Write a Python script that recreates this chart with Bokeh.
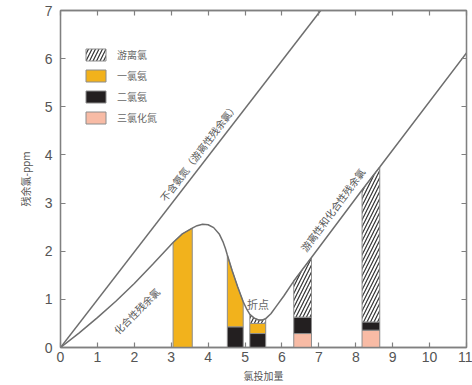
import numpy as np
from bokeh.plotting import figure
from bokeh.models import Range1d, LinearAxis, Label, Legend, LegendItem, ColumnDataSource, FixedTicker
from bokeh.core.properties import value
from bokeh.embed import file_html
from bokeh.resources import INLINE

# ---------------- data ----------------
x_ticks = list(range(0, 12))
y_ticks = list(range(0, 8))

# line without ammonia (free residual chlorine)
free_line_x = [0.0, 7.05]
free_line_y = [0.0, 7.0]

# breakpoint curve
curve_x = [0.0, 0.5, 1.0, 1.5, 2.0, 2.5, 3.05, 3.3, 3.57, 3.7, 3.85, 4.0, 4.15, 4.3, 4.4, 4.47, 4.52,
           4.65, 4.8, 4.95, 5.05, 5.13, 5.25, 5.37, 5.47, 5.56, 5.7, 5.85, 6.05, 6.32, 6.80, 8.17, 8.65, 11.0]
curve_y = [0.0, 0.30, 0.62, 0.96, 1.33, 1.73, 2.18, 2.36, 2.48, 2.53, 2.56, 2.55, 2.49, 2.36, 2.20, 2.05, 1.92,
           1.60, 1.26, 0.95, 0.79, 0.69, 0.61, 0.57, 0.57, 0.60, 0.70, 0.86, 1.07, 1.38, 1.87, 3.27, 3.75, 6.12]

# sample bars
bar_left = [3.05, 4.52, 5.13, 6.32, 8.17]
bar_right = [3.57, 4.95, 5.56, 6.80, 8.65]
ncl3 = [0.0, 0.0, 0.0, 0.29, 0.36]       # 三氯化氮
nhcl2 = [0.0, 0.43, 0.29, 0.34, 0.17]    # 二氯氨
nh2cl = [None, None, 0.21, 0.0, 0.0]     # 一氯氨 (None = up to the curve)
# the remainder up to the curve is free chlorine (游离氯)

legend_labels = ["游离氯", "一氯氨", "二氯氨", "三氯化氮"]

curve_texts = ["不含氨氮（游离性残余氯）", "化合性残余氯", "游离性和化合性残余氯"]
curve_text_x = [3.74, 2.06, 7.37]
curve_text_y = [4.06, 0.76, 2.86]
curve_text_angle = [52.8, 45.0, 53.6]

# ---------------- style ----------------
CJK = "Noto Sans CJK SC"
GRAY = "#808080"
colors = {"hatch": "#ffffff", "orange": "#f2b21c", "black": "#231f20", "pink": "#f8bba5"}

p = figure(width=472, height=385,
           x_range=Range1d(0, 11), y_range=Range1d(0, 7),
           output_backend="svg", toolbar_location=None,
           min_border_left=60, min_border_right=6, min_border_top=10, min_border_bottom=33)
p.grid.visible = False
p.outline_line_color = GRAY
p.outline_line_width = 1.3
p.background_fill_color = "white"


def style_axis(ax, ticks, labels=True):
    ax.axis_line_color = GRAY
    ax.axis_line_width = 1.3
    ax.major_tick_line_color = GRAY
    ax.major_tick_line_width = 1.2
    ax.major_tick_in = 5
    ax.major_tick_out = 0
    ax.minor_tick_line_color = None
    if labels:
        ax.major_label_text_font = "Liberation Sans"
        ax.major_label_text_font_size = "14px"
        ax.major_label_text_color = "#555555"
        ax.major_label_standoff = 4
    else:
        ax.major_label_overrides = {t: "" for t in ticks}
        ax.major_label_text_font_size = "1px"
        ax.major_label_standoff = 0


p.xaxis.ticker = FixedTicker(ticks=x_ticks)
p.yaxis.ticker = FixedTicker(ticks=y_ticks)
style_axis(p.xaxis[0], x_ticks)
style_axis(p.yaxis[0], y_ticks)
p.yaxis.major_label_standoff = 8
p.xaxis.axis_label = "氯投加量"
p.xaxis.axis_label_text_font = CJK
p.xaxis.axis_label_text_font_size = "10px"
p.xaxis.axis_label_text_font_style = "normal"
p.xaxis.axis_label_text_color = "#555555"
p.xaxis.axis_label_standoff = 3
p.yaxis.axis_label = "残余氯-ppm"
p.yaxis.axis_label_text_font = CJK
p.yaxis.axis_label_text_font_size = "10px"
p.yaxis.axis_label_text_font_style = "normal"
p.yaxis.axis_label_text_color = "#555555"
p.yaxis.axis_label_standoff = 9

top_ax = LinearAxis(ticker=FixedTicker(ticks=x_ticks))
style_axis(top_ax, x_ticks, labels=False)
p.add_layout(top_ax, "above")
right_ax = LinearAxis(ticker=FixedTicker(ticks=y_ticks))
style_axis(right_ax, y_ticks, labels=False)
p.add_layout(right_ax, "right")

# ---------------- bars ----------------
def curve_segment(x0, x1):
    cx = [v for v in curve_x if x0 <= v <= x1]
    cy = [curve_y[i] for i, v in enumerate(curve_x) if x0 <= v <= x1]
    return cx, cy

layers = {k: {"xs": [], "ys": []} for k in ["pink", "black", "orange", "hatch"]}
for i in range(len(bar_left)):
    x0, x1 = bar_left[i], bar_right[i]
    base = 0.0
    for name, h in [("pink", ncl3[i]), ("black", nhcl2[i]), ("orange", nh2cl[i]), ("hatch", None)]:
        if h is None:
            cx, cy = curve_segment(x0, x1)
            layers[name]["xs"].append([x0] + cx + [x1])
            layers[name]["ys"].append([base] + cy + [base])
            break
        if h > 0:
            layers[name]["xs"].append([x0, x1, x1, x0])
            layers[name]["ys"].append([base, base, base + h, base + h])
            base += h

renderers = {}
for name in ["pink", "black", "orange", "hatch"]:
    src = ColumnDataSource(layers[name])
    kw = dict(fill_color=colors[name], line_color="#8c8c8c", line_width=1)
    if name == "hatch":
        kw.update(hatch_pattern="/", hatch_color="#333333", hatch_scale=7, hatch_weight=1.2)
    renderers[name] = p.patches("xs", "ys", source=src, **kw)

# ---------------- curves ----------------
p.line(free_line_x, free_line_y, line_color="#6e6e6e", line_width=1.5)
p.line(curve_x, curve_y, line_color="#6e6e6e", line_width=1.5)

for t, x, y, a in zip(curve_texts, curve_text_x, curve_text_y, curve_text_angle):
    p.text(x=[x], y=[y], text=[t], angle=a, angle_units="deg",
           text_font=value(CJK), text_font_size=value("10px"), text_color="#555555",
           text_align="center", text_baseline="middle")

p.add_layout(Label(x=5.35, y=0.9, text="折点", text_font=CJK, text_font_size="11px",
                   text_color="#666666", text_align="center", text_baseline="middle"))

# ---------------- legend ----------------
legend = Legend(items=[LegendItem(label=legend_labels[0], renderers=[renderers["hatch"]]),
                       LegendItem(label=legend_labels[1], renderers=[renderers["orange"]]),
                       LegendItem(label=legend_labels[2], renderers=[renderers["black"]]),
                       LegendItem(label=legend_labels[3], renderers=[renderers["pink"]])],
                location=(23, 222))
legend.label_text_font = CJK
legend.label_text_font_size = "10px"
legend.label_text_color = "#666666"
legend.glyph_width = 25
legend.glyph_height = 15
legend.label_height = 15
legend.label_standoff = 9
legend.spacing = 6
legend.padding = 0
legend.margin = 0
legend.border_line_color = None
legend.background_fill_alpha = 0
p.add_layout(legend, "center")

open("out.html", "w").write(file_html(p, INLINE))
